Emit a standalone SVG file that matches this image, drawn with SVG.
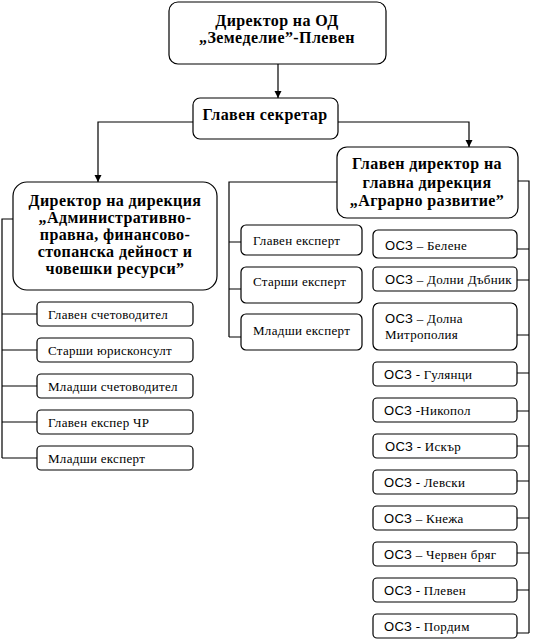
<svg xmlns="http://www.w3.org/2000/svg" width="534" height="643" viewBox="0 0 534 643">
<defs>
<marker id="ah" viewBox="0 0 10 10" refX="10" refY="5" markerWidth="7" markerHeight="8" markerUnits="userSpaceOnUse" orient="auto">
<path d="M0,0 L10,5 L0,10 z" fill="#000"/>
</marker>
<style>
.box{fill:#fff;stroke:#000;stroke-width:1.2}
.ln{fill:none;stroke:#000;stroke-width:1.2}
.h{font-size:16px;font-weight:bold;text-anchor:middle;fill:#000;letter-spacing:0.4px}
.t{font-size:13px;fill:#000;letter-spacing:0.3px}
</style>
</defs>
<rect width="534" height="643" fill="#fff"/>

<g id="connectors">
<path class="ln" d="M278,64 V98" marker-end="url(#ah)"/>
<path class="ln" d="M193,122 H98 V182" marker-end="url(#ah)"/>
<path class="ln" d="M338,122 H469 V147" marker-end="url(#ah)"/>
<path class="ln" d="M13,219 H2 V458 M2,314 H37 M2,350 H37 M2,386 H37 M2,422 H37 M2,458 H37"/>
<path class="ln" d="M337,182 H229 V337 M229,242 H241 M229,289 H241 M229,337 H241"/>
<path class="ln" d="M518,181 H529 V633 M517,249 H529 M517,280 H529 M517,335 H529 M517,373 H529 M517,411 H529 M517,446 H529 M517,481 H529 M517,518 H529 M517,553 H529 M517,590 H529 M517,633 H529"/>
</g>

<g id="nodes" font-family="'Liberation Serif', 'Times New Roman', Times, serif">
<g id="n-director">
<rect class="box" x="169" y="2" width="217" height="62" rx="9"/>
<text class="h" x="277" y="26">Директор на ОД</text>
<text class="h" x="277" y="43">„Земеделие”-Плевен</text>
</g>

<g id="n-secretary">
<rect class="box" x="193" y="98" width="145" height="41" rx="7"/>
<text class="h" x="265" y="120">Главен секретар</text>
</g>

<g id="n-admin">
<rect class="box" x="13" y="182" width="204" height="108" rx="14"/>
<text class="h" x="115" y="206">Директор на дирекция</text>
<text class="h" x="115" y="223">„Административно-</text>
<text class="h" x="115" y="240">правна, финансово-</text>
<text class="h" x="115" y="257">стопанска дейност и</text>
<text class="h" x="115" y="274">човешки ресурси”</text>
</g>

<g id="n-agrar">
<rect class="box" x="337" y="147" width="181" height="71" rx="10"/>
<text class="h" x="427" y="169">Главен директор на</text>
<text class="h" x="427" y="188">главна дирекция</text>
<text class="h" x="427" y="206">„Аграрно развитие”</text>
</g>

<g id="n-l1"><rect class="box" x="37" y="302" width="156" height="24" rx="4"/><text class="t" x="48" y="319">Главен счетоводител</text></g>
<g id="n-l2"><rect class="box" x="37" y="338" width="156" height="24" rx="4"/><text class="t" x="48" y="355">Старши юрисконсулт</text></g>
<g id="n-l3"><rect class="box" x="37" y="374" width="156" height="24" rx="4"/><text class="t" x="48" y="391">Младши счетоводител</text></g>
<g id="n-l4"><rect class="box" x="37" y="410" width="156" height="24" rx="4"/><text class="t" x="48" y="427">Главен експер ЧР</text></g>
<g id="n-l5"><rect class="box" x="37" y="446" width="156" height="24" rx="4"/><text class="t" x="48" y="463">Младши експерт</text></g>

<g id="n-m1"><rect class="box" x="241" y="225" width="121" height="30" rx="5"/><text class="t" x="253" y="245">Главен експерт</text></g>
<g id="n-m2"><rect class="box" x="241" y="267" width="121" height="36" rx="5"/><text class="t" x="253" y="286">Старши експерт</text></g>
<g id="n-m3"><rect class="box" x="241" y="314" width="121" height="36" rx="5"/><text class="t" x="253" y="335">Младши експерт</text></g>

<g id="n-o1"><rect class="box" x="373" y="230" width="144" height="28" rx="5"/><text class="t" x="385" y="250"><tspan font-family="'Liberation Sans', Arial, sans-serif">ОСЗ</tspan> – Белене</text></g>
<g id="n-o2"><rect class="box" x="373" y="267" width="144" height="24" rx="4"/><text class="t" x="385" y="284"><tspan font-family="'Liberation Sans', Arial, sans-serif">ОСЗ</tspan> – Долни Дъбник</text></g>
<g id="n-o3"><rect class="box" x="373" y="303" width="144" height="47" rx="6"/><text class="t" x="385" y="323"><tspan font-family="'Liberation Sans', Arial, sans-serif">ОСЗ</tspan> – Долна</text><text class="t" x="385" y="339">Митрополия</text></g>
<g id="n-o4"><rect class="box" x="373" y="362" width="144" height="24" rx="4"/><text class="t" x="384" y="379"><tspan font-family="'Liberation Sans', Arial, sans-serif">ОСЗ</tspan> - Гулянци</text></g>
<g id="n-o5"><rect class="box" x="373" y="398" width="144" height="24" rx="4"/><text class="t" x="384" y="415"><tspan font-family="'Liberation Sans', Arial, sans-serif">ОСЗ</tspan> -Никопол</text></g>
<g id="n-o6"><rect class="box" x="373" y="434" width="144" height="24" rx="4"/><text class="t" x="385" y="451"><tspan font-family="'Liberation Sans', Arial, sans-serif">ОСЗ</tspan> - Искър</text></g>
<g id="n-o7"><rect class="box" x="373" y="470" width="144" height="24" rx="4"/><text class="t" x="384" y="487"><tspan font-family="'Liberation Sans', Arial, sans-serif">ОСЗ</tspan> - Левски</text></g>
<g id="n-o8"><rect class="box" x="373" y="506" width="144" height="24" rx="4"/><text class="t" x="384" y="523"><tspan font-family="'Liberation Sans', Arial, sans-serif">ОСЗ</tspan> – Кнежа</text></g>
<g id="n-o9"><rect class="box" x="373" y="542" width="144" height="24" rx="4"/><text class="t" x="384" y="559"><tspan font-family="'Liberation Sans', Arial, sans-serif">ОСЗ</tspan> – Червен бряг</text></g>
<g id="n-o10"><rect class="box" x="373" y="578" width="144" height="24" rx="4"/><text class="t" x="384" y="595"><tspan font-family="'Liberation Sans', Arial, sans-serif">ОСЗ</tspan> - Плевен</text></g>
<g id="n-o11"><rect class="box" x="373" y="614" width="144" height="24" rx="4"/><text class="t" x="384" y="631"><tspan font-family="'Liberation Sans', Arial, sans-serif">ОСЗ</tspan> - Пордим</text></g>
</g>
</svg>
